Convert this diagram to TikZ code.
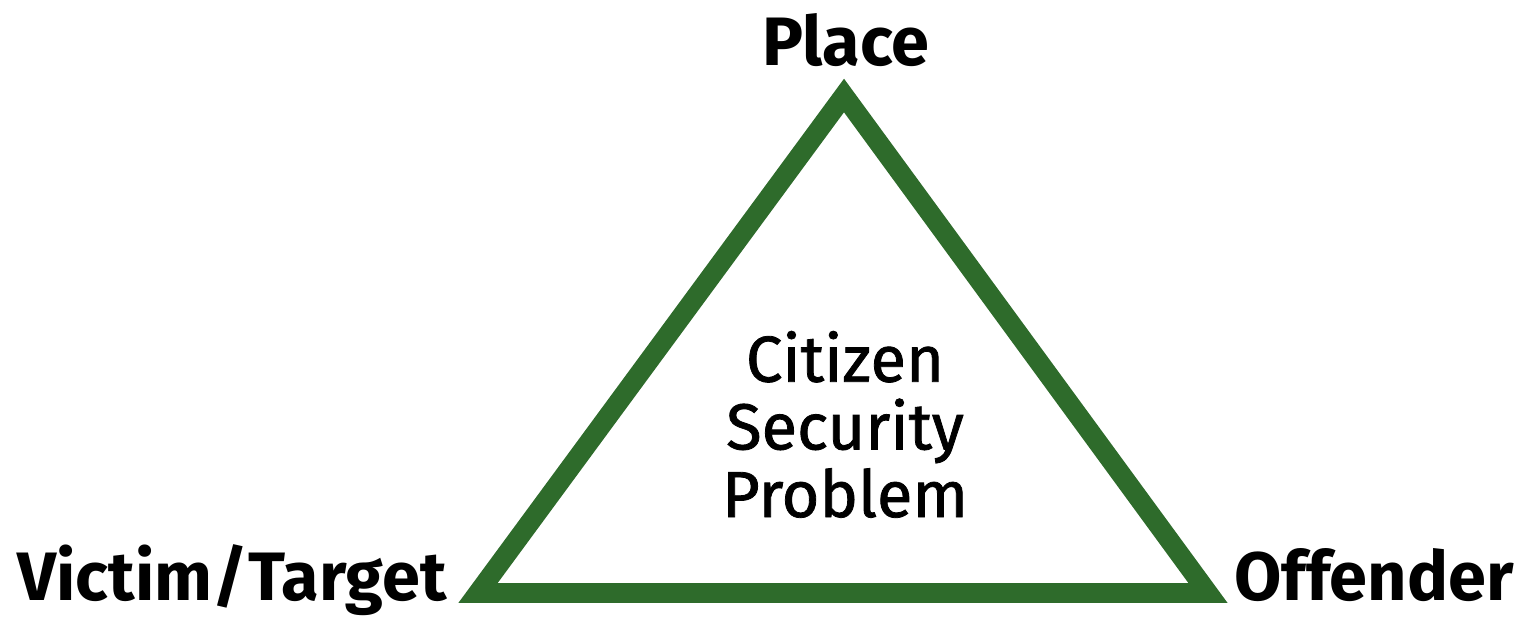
\documentclass[tikz,border=0pt]{standalone}
\usepackage{fontspec}
\setmainfont{Fira Sans}
\newfontfamily\midfont{Fira Sans}[FakeBold=1.2]
\usetikzlibrary{positioning}
\definecolor{crimegreen}{RGB}{46,107,43}

\begin{document}
\begin{tikzpicture}[x=0.02cm,y=-0.02cm,
  corner/.style={inner sep=0pt,anchor=base,font=\bfseries\fontsize{39}{44}\selectfont},
  side/.style={draw=crimegreen,line width=11.3pt,line join=miter}]

% Fix the picture size
\useasboundingbox (0,0) rectangle (1519,616);

% Corners of the triangle
\coordinate (top) at (844,95.5);
\coordinate (left) at (478,593);
\coordinate (right) at (1208,593);

% Draw the triangle
\draw[side] (top) -- (right) -- (left) -- cycle;

% Add the corner labels
\node[corner] (place) at (846,65) {Place};
\node[corner] (victim) at (232,600) {Victim/Target};
\node[corner] (offender) at (1374,600) {Offender};

% Add the text in the middle
\node[inner sep=0pt,anchor=base,align=center,font=\midfont\fontsize{37}{38.5}\selectfont] (problem) at (845,517) {Citizen\\Security\\Problem};

\end{tikzpicture}
\end{document}
